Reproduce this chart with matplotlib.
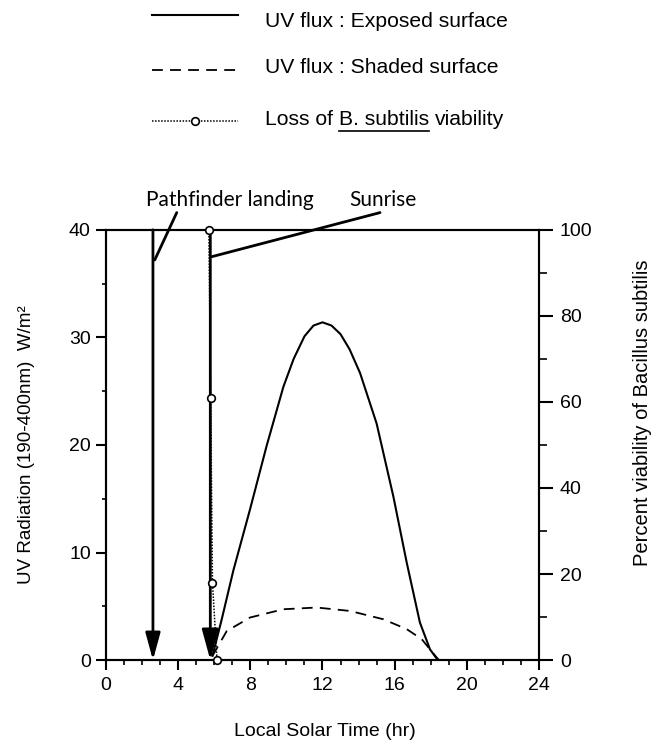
import matplotlib
matplotlib.use("Agg")
import matplotlib.pyplot as plt
from matplotlib.lines import Line2D

plt.rcParams['font.family'] = ['Liberation Sans', 'DejaVu Sans']

# UV flux, exposed surface (W/m2) vs local solar time (hr)
exposed_time = [5.9, 6.4, 7.06, 7.98, 8.9, 9.83, 10.4, 11.0, 11.5, 12.0, 12.5, 13.0,
                13.5, 14.08, 15.0, 15.93, 16.67, 17.4, 17.96, 18.33, 18.45]
exposed_flux = [0.4, 3.7, 8.35, 14.0, 19.9, 25.4, 28.0, 30.1, 31.1, 31.4, 31.1, 30.3,
                28.9, 26.7, 22.0, 15.2, 9.06, 3.5, 1.0, 0.15, 0.0]

# UV flux, shaded surface
shaded_time = [5.9, 6.69, 7.98, 9.83, 11.68, 13.53, 15.37, 16.67, 17.5, 17.96, 18.45]
shaded_flux = [0.4, 2.7, 3.96, 4.73, 4.89, 4.57, 3.8, 2.88, 1.95, 1.0, 0.0]

# loss of B. subtilis viability (percent)
viab_time = [5.7, 5.8, 5.9, 6.15]
viab_pct = [100, 61, 18, 0]

# events
landing_time = 2.6
sunrise_time = 5.78

fig = plt.figure(figsize=(6.67, 7.51), dpi=100)
ax = fig.add_axes([0.159, 0.121, 0.649, 0.573])
ax2 = ax.twinx()

ax.plot(exposed_time, exposed_flux, c="black", lw=1.5)
ax.plot(shaded_time, shaded_flux, c="black", lw=1.3, linestyle=(0, (6, 4)))
ax2.plot(viab_time, viab_pct, c="black", lw=1.1, linestyle=(0, (1, 1)),
         marker="o", ms=5.5, mfc="white", mec="black", mew=1.2, clip_on=False, zorder=5)

# vertical arrows for landing and sunrise
for t, hs in [(landing_time, 15), (sunrise_time, 17)]:
    ax.annotate("", xy=(t, 0), xytext=(t, 40),
                arrowprops=dict(arrowstyle="-|>,head_length=1.1,head_width=0.3",
                                mutation_scale=hs, lw=2, color="black",
                                shrinkA=0, shrinkB=0))

# labels with leader lines
ax.text(6.87, 42.8, "Pathfinder landing", family=["Lato", "DejaVu Sans"], fontsize=15,
        ha="center", va="center")
ax.text(15.36, 42.8, "Sunrise", family=["Lato", "DejaVu Sans"], fontsize=15,
        ha="center", va="center")
ax.annotate("", xy=(landing_time + 0.1, 37.2), xytext=(3.92, 41.6), annotation_clip=False,
            arrowprops=dict(arrowstyle="-", lw=2, color="black", shrinkA=0, shrinkB=0))
ax.annotate("", xy=(sunrise_time + 0.08, 37.5), xytext=(15.19, 41.6), annotation_clip=False,
            arrowprops=dict(arrowstyle="-", lw=2, color="black", shrinkA=0, shrinkB=0))

# axes
ax.set_xlim(0, 24)
ax.set_ylim(0, 40)
ax2.set_ylim(0, 100)
ax.set_xticks(range(0, 25, 4))
ax.set_xticks(range(0, 25), minor=True)
ax.set_yticks(range(0, 41, 10))
ax.set_yticks(range(5, 40, 10), minor=True)
ax2.set_yticks(range(0, 101, 20))
ax2.set_yticks(range(10, 100, 20), minor=True)

for a in [ax, ax2]:
    for s in a.spines.values():
        s.set_linewidth(1.5)
ax.tick_params(axis="x", which="major", length=7, width=1.5, direction="out",
               labelsize=14, pad=5)
ax.tick_params(axis="x", which="minor", length=3.5, width=1.2, direction="out")
ax.tick_params(axis="y", which="major", length=7, width=1.5, direction="out",
               labelsize=14, pad=4)
ax.tick_params(axis="y", which="minor", length=3, width=1.2, direction="out")
ax2.tick_params(axis="y", which="major", length=10, width=1.5, direction="out",
                labelsize=14, pad=5)
ax2.tick_params(axis="y", which="minor", length=5.5, width=1.2, direction="out")

ax.set_xlabel("Local Solar Time (hr)", fontsize=14)
ax.xaxis.set_label_coords(0.506, -0.145)
ax.set_ylabel("UV Radiation (190-400nm)  W/m²", fontsize=13.5)
ax.yaxis.set_label_coords(-0.164, 0.5)
ax2.set_ylabel("Percent viability of Bacillus subtilis", fontsize=14.5, rotation=90)
ax2.yaxis.set_label_coords(1.218, 0.575)

# legend drawn by hand at the top
x_line0, x_line1, x_text = 0.228, 0.357, 0.397
fig.add_artist(Line2D([x_line0, x_line1], [0.980, 0.980], color="black", lw=1.5))
fig.add_artist(Line2D([x_line0, x_line1], [0.907, 0.907], color="black", lw=1.3,
                      linestyle=(0, (6, 4))))
fig.add_artist(Line2D([x_line0, x_line1], [0.839, 0.839], color="black", lw=1.1,
                      linestyle=(0, (1, 1))))
fig.add_artist(Line2D([(x_line0 + x_line1) / 2], [0.839], marker="o", ms=5.5,
                      mfc="white", mec="black", mew=1.2, lw=0))
leg_size = 15.2
fig.text(x_text, 0.964, "UV flux : Exposed surface", fontsize=leg_size, va="baseline")
fig.text(x_text, 0.903, "UV flux : Shaded surface", fontsize=leg_size, va="baseline")

renderer = fig.canvas.get_renderer()
fig_w = fig.bbox.width

def text_w(s):
    t = fig.text(0, 0, s, fontsize=leg_size)
    w = t.get_window_extent(renderer).width
    t.remove()
    return w

space = (text_w("a a") - text_w("aa")) / fig_w
base = 0.834
fig.text(x_text, base, "Loss of", fontsize=leg_size, va="baseline")
x2 = x_text + text_w("Loss of") / fig_w + space
fig.text(x2, base, "B. subtilis", fontsize=leg_size, va="baseline")
w2 = text_w("B. subtilis") / fig_w
fig.text(x2 + w2 + space, base, "viability", fontsize=leg_size, va="baseline")
fig.add_artist(Line2D([x2, x2 + w2], [base - 6 / 751, base - 6 / 751], color="black", lw=1.2))

fig.savefig("out.png", dpi=100)
